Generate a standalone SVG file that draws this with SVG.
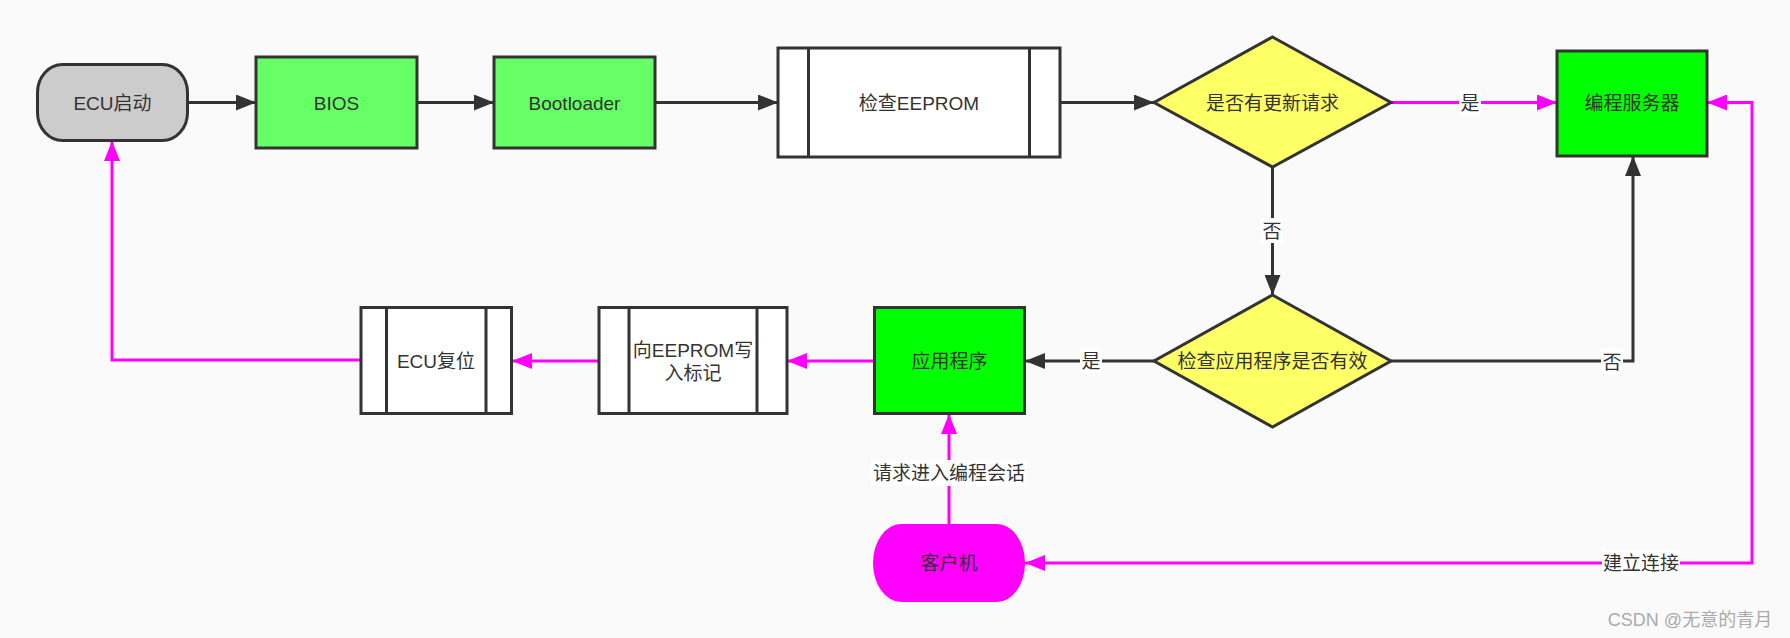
<svg xmlns="http://www.w3.org/2000/svg" width="1790" height="638" viewBox="0 0 1790 638">
<defs>
<style>
text{font-family:"Liberation Sans","Noto Sans CJK SC",sans-serif;font-size:19px;fill:#333;text-anchor:middle}
.n{stroke:#333;stroke-width:3}
.e{fill:none;stroke:#333;stroke-width:3}
.p{fill:none;stroke:#ff00ff;stroke-width:3}
.lb{fill:#ffffff}
</style>
<marker id="ad" markerUnits="userSpaceOnUse" markerWidth="20" markerHeight="16" refX="20" refY="8" orient="auto"><path d="M0,0 L20,8 L0,16 z" fill="#333"/></marker>
<marker id="ap" markerUnits="userSpaceOnUse" markerWidth="20" markerHeight="16" refX="20" refY="8" orient="auto"><path d="M0,0 L20,8 L0,16 z" fill="#ff00ff"/></marker>
<marker id="aps" markerUnits="userSpaceOnUse" markerWidth="20" markerHeight="16" refX="0" refY="8" orient="auto"><path d="M20,0 L0,8 L20,16 z" fill="#ff00ff"/></marker>
</defs>
<rect width="1790" height="638" fill="#fafafa"/>
<g id="connectors">
<path class="e" d="M188,102.5 L256,102.5" marker-end="url(#ad)"/>
<path class="e" d="M417,102.5 L494,102.5" marker-end="url(#ad)"/>
<path class="e" d="M655,102.5 L778,102.5" marker-end="url(#ad)"/>
<path class="e" d="M1060,102.5 L1154,102.5" marker-end="url(#ad)"/>
<path class="p" d="M1391,102.5 L1557,102.5" marker-end="url(#ap)"/>
<path class="e" d="M1272.5,167 L1272.5,295" marker-end="url(#ad)"/>
<path class="e" d="M1154,361 L1025,361" marker-end="url(#ad)"/>
<path class="e" d="M1391,361 L1633,361 L1633,156" marker-end="url(#ad)"/>
<path class="p" d="M874,361 L787,361" marker-end="url(#ap)"/>
<path class="p" d="M599,361 L512,361" marker-end="url(#ap)"/>
<path class="p" d="M361,360 L112,360 L112,141" marker-end="url(#ap)"/>
<path class="p" d="M949,524 L949,414" marker-end="url(#ap)"/>
<path class="p" d="M1025,563 L1752,563 L1752,102.5 L1707,102.5" marker-start="url(#aps)" marker-end="url(#ap)"/>
<rect class="lb" x="1459" y="90" width="22" height="25"/><text x="1470" y="109.5">是</text>
<rect class="lb" x="1261" y="218" width="22" height="25"/><text x="1272" y="238">否</text>
<rect class="lb" x="1080" y="348" width="22" height="25"/><text x="1091" y="368">是</text>
<rect class="lb" x="1601" y="349" width="22" height="25"/><text x="1612" y="369">否</text>
<rect class="lb" x="871" y="460" width="156" height="26"/><text x="949" y="480">请求进入编程会话</text>
<rect class="lb" x="1602" y="550" width="78" height="26"/><text x="1641" y="570">建立连接</text>
</g>
<g id="ecu_start"><rect class="n" x="37.5" y="64.5" width="150" height="76" rx="25" ry="28" fill="#cccccc"/><text x="112.5" y="110">ECU启动</text></g>
<g id="bios"><rect class="n" x="256" y="57" width="161" height="91" fill="#66ff66"/><text x="336.5" y="109.5">BIOS</text></g>
<g id="bootloader"><rect class="n" x="494" y="57" width="161" height="91" fill="#66ff66"/><text x="574.5" y="109.5">Bootloader</text></g>
<g id="check_eeprom"><rect class="n" x="778" y="48" width="282" height="109" fill="#ffffff"/><path class="n" d="M808.5,48 V157 M1029.5,48 V157"/><text x="919" y="109.5">检查EEPROM</text></g>
<g id="update_req"><polygon class="n" points="1272.5,37 1391,102.5 1272.5,167 1154,102.5" fill="#ffff66"/><text x="1272.5" y="109.5">是否有更新请求</text></g>
<g id="prog_server"><rect class="n" x="1557" y="51" width="150" height="105" fill="#00ff00"/><text x="1632" y="109.5">编程服务器</text></g>
<g id="check_app"><polygon class="n" points="1272.5,295 1391,361 1272.5,427 1154,361" fill="#ffff66"/><text x="1272.5" y="368">检查应用程序是否有效</text></g>
<g id="app"><rect class="n" x="874.5" y="307.5" width="150" height="106" fill="#00ff00"/><text x="949.5" y="368">应用程序</text></g>
<g id="write_flag"><rect class="n" x="599" y="307.5" width="188" height="106" fill="#ffffff"/><path class="n" d="M629,307.5 V413.5 M757,307.5 V413.5"/><text x="693" y="357">向EEPROM写</text><text x="693" y="380">入标记</text></g>
<g id="ecu_reset"><rect class="n" x="361" y="307.5" width="150.5" height="106" fill="#ffffff"/><path class="n" d="M386.5,307.5 V413.5 M486,307.5 V413.5"/><text x="436" y="368">ECU复位</text></g>
<g id="client"><rect x="873" y="524" width="152" height="78" rx="28" ry="39" fill="#ff00ff"/><text x="949" y="570">客户机</text></g>
<text x="1690" y="626" style="font-size:18px;fill:#aaaaaa">CSDN @无意的青月</text>
</svg>
